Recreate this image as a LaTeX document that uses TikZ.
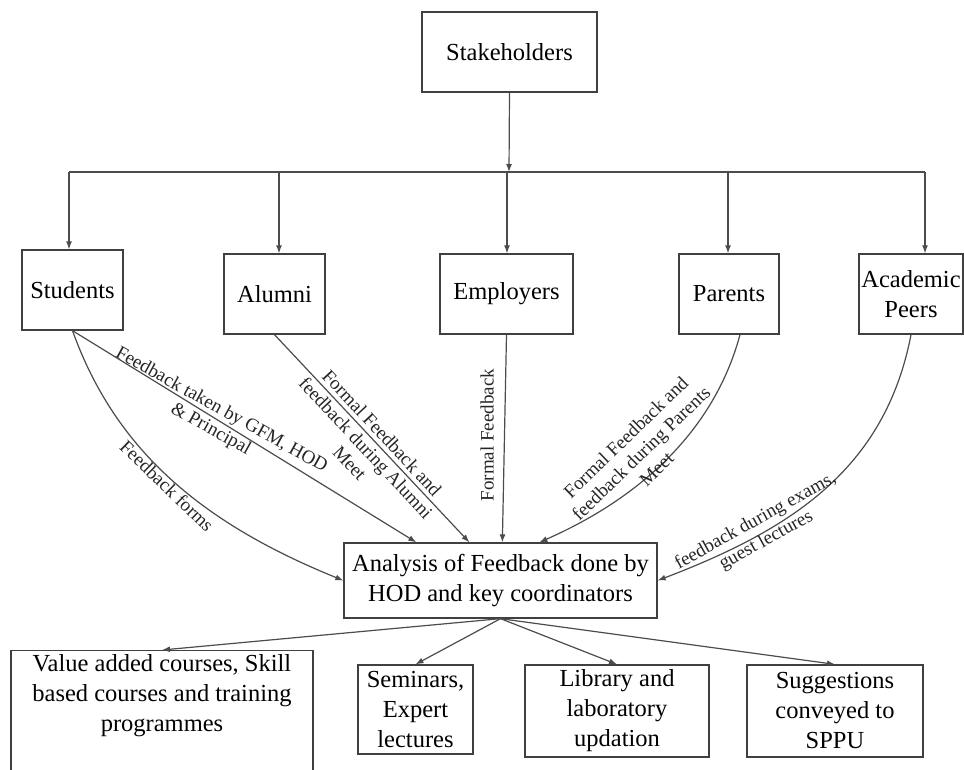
\documentclass[tikz,border=0pt]{standalone}
\usepackage{fontspec}
\setmainfont{Liberation Serif}
\usetikzlibrary{arrows.meta,calc}
\begin{document}
\begin{tikzpicture}[x=1pt,y=-1pt,
  boxx/.style={draw=black!75, line width=1.3pt, fill=white, align=center, inner sep=0pt,
    font=\fontsize{24.5}{30}\selectfont, text=black},
  arr/.style={draw=black!70, line width=1.2pt, -{Latex[length=8pt,width=6pt]}},
  conn/.style={draw=black!70, line width=1.2pt},
  lab/.style={font=\fontsize{19}{22}\selectfont, align=center, text=black!85, inner sep=0pt}]
\useasboundingbox (0,0) rectangle (964,770);
\clip (0,0) rectangle (964,770);

% boxes
\node[boxx, minimum width=175, minimum height=80] (stake) at (509.5,52) {Stakeholders};
\node[boxx, minimum width=101, minimum height=80] (stu) at (72.5,290) {Students};
\node[boxx, minimum width=101, minimum height=80] (alu) at (274.5,294) {Alumni};
\node[boxx, minimum width=133, minimum height=80] (emp) at (506.5,294) {Employers};
\node[boxx, minimum width=100, minimum height=80] (par) at (729,294) {Parents};
\node[boxx, minimum width=104, minimum height=80] (acad) at (911,294) {Academic\\Peers};
\node[boxx, minimum width=313, minimum height=75] (ana) at (500.5,580.5) {Analysis of Feedback done by\\HOD and key coordinators};
\node[boxx, anchor=north, minimum width=302, inner ysep=4pt, text depth=100pt] (val) at (162,650)
  {Value added courses, Skill\\based courses and training\\programmes};
\node[boxx, minimum width=115, minimum height=89] (sem) at (415.5,709.5) {Seminars,\\Expert\\lectures};
\node[boxx, minimum width=184, minimum height=92] (lib) at (617,711) {Library and\\laboratory\\updation};
\node[boxx, minimum width=176, minimum height=92] (sug) at (835,711) {Suggestions\\conveyed to\\SPPU};

% bus
\coordinate (bc) at (509,172);
\coordinate (b1) at (69,172);
\coordinate (b2) at (279,172);
\coordinate (b3) at (507,172);
\coordinate (b4) at (728,172);
\coordinate (b5) at (925,172);
\draw[arr] (stake.south) -- (bc);
\draw[conn] (b1) -- (b5);
\draw[arr] (b1) -- (b1 |- stu.north);
\draw[arr] (b2) -- (b2 |- alu.north);
\draw[arr] (b3) -- (b3 |- emp.north);
\draw[arr] (b4) -- (b4 |- par.north);
\draw[arr] (b5) -- (b5 |- acad.north);

% feedback connectors
\draw[arr] (stu.south) -- ($(ana.north west)+(73,0)$);
\draw[arr] (stu.south) .. controls (116,452) and (204,524) .. (ana.west);
\draw[arr] (alu.south) -- ($(ana.north west)+(126,0)$);
\draw[arr] (emp.south) -- ($(ana.north west)+(159,0)$);
\draw[arr] ($(par.south)+(11,0)$) .. controls (714,431) and (640,498) .. ($(ana.north west)+(196,0)$);
\draw[arr] (acad.south) .. controls (885,470) and (790,530) .. (ana.east);

% labels
\node[lab, rotate=-29] (l1) at (216,420) {Feedback taken by GFM, HOD\\\& Principal};
\node[lab, rotate=-44] (l2) at (167,486) {Feedback forms};
\node[lab, rotate=-47] (l3) at (366,448) {Formal Feedback and\\feedback during Alumni\\Meet};
\node[lab, rotate=90] (l4) at (487,435) {Formal Feedback};
\node[lab, rotate=44] (l5) at (641,453) {Formal Feedback and\\feedback during Parents\\Meet};
\node[lab, rotate=29] (l6) at (761,531) {feedback during exams,\\guest lectures};

% outputs
\draw[arr] (ana.south) -- (val.north);
\draw[arr] (ana.south) -- (sem.north);
\draw[arr] (ana.south) -- (lib.north);
\draw[arr] (ana.south) -- (sug.north);
\end{tikzpicture}
\end{document}
